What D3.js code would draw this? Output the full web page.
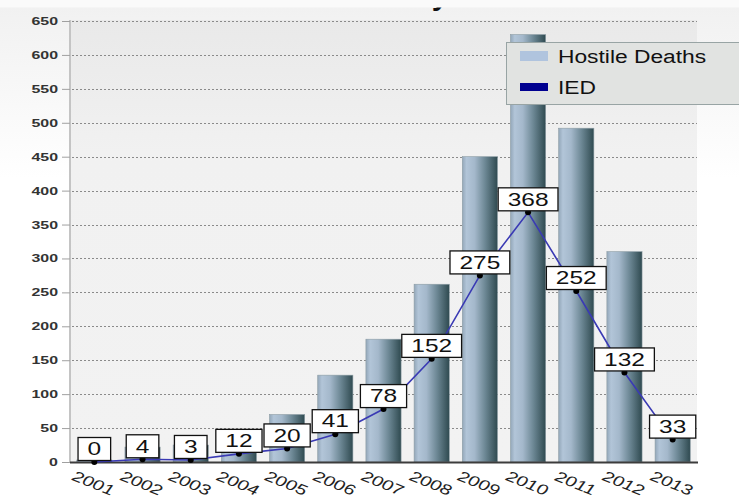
<!DOCTYPE html>
<html>
<head>
<meta charset="utf-8">
<title>Hostile Deaths and IED</title>
<script src="https://cdn.jsdelivr.net/npm/d3@7"></script>
<style>
  body { margin: 0; background: #fff; }
  svg { display: block; font-family: "Liberation Sans", Arial, sans-serif; }
</style>
</head>
<body>
<div id="chart"></div>
<script>
// chart data
const years = ['2001','2002','2003','2004','2005','2006','2007','2008','2009','2010','2011','2012','2013'];
const hostile = [3, 22, 25, 26, 70, 128, 181, 262, 450, 630, 492, 310, 40];
const ied = [0, 4, 3, 12, 20, 41, 78, 152, 275, 368, 252, 132, 33];
const yTicks = [0, 50, 100, 150, 200, 250, 300, 350, 400, 450, 500, 550, 600, 650];
const seriesNames = ['Hostile Deaths', 'IED'];

const W = 739, H = 498;
const plot = { left: 70, right: 697, top: 20, bottom: 462 };

const svg = d3.select('#chart').append('svg')
  .attr('width', W).attr('height', H);

const defs = svg.append('defs');
const bg = defs.append('linearGradient').attr('id', 'bg')
  .attr('x1', 0).attr('y1', 0).attr('x2', 0).attr('y2', 1);
bg.append('stop').attr('offset', '0%').attr('stop-color', '#f1f1f1');
bg.append('stop').attr('offset', '35%').attr('stop-color', '#ffffff');

const plotBg = defs.append('linearGradient').attr('id', 'plotbg')
  .attr('x1', 0).attr('y1', 0).attr('x2', 0).attr('y2', 1);
plotBg.append('stop').attr('offset', '0%').attr('stop-color', '#e9e9e9');
plotBg.append('stop').attr('offset', '30%').attr('stop-color', '#f1f1f1');
plotBg.append('stop').attr('offset', '100%').attr('stop-color', '#f2f2f2');

const barGrad = defs.append('linearGradient').attr('id', 'bar')
  .attr('x1', 0).attr('y1', 0).attr('x2', 1).attr('y2', 0);
[['0%', '#93a7b9'], ['12%', '#b2c5d8'], ['35%', '#a4b8cb'], ['65%', '#6c8794'], ['100%', '#2f4a50']]
  .forEach(s => barGrad.append('stop').attr('offset', s[0]).attr('stop-color', s[1]));

// backgrounds
svg.append('rect').attr('x', 0).attr('y', 7).attr('width', W).attr('height', H - 7)
  .attr('fill', 'url(#bg)');

// title sits above the visible area; only a descender shows below the top strip
const title = svg.append('text')
  .attr('y', 5)
  .attr('font-size', 30)
  .attr('font-weight', 'bold')
  .attr('fill', '#111')
  .text('Coalition Deaths by Year');
const node = title.node();
const yIdx = node.textContent.indexOf('by') + 1;
const pre = node.getSubStringLength(0, yIdx);
const yW = node.getSubStringLength(yIdx, 1);
title.attr('x', 440 - pre - yW / 2);
svg.append('rect').attr('x', 0).attr('y', -40).attr('width', W).attr('height', 47.5)
  .attr('fill', '#fafafa');

svg.append('rect')
  .attr('x', plot.left).attr('y', plot.top)
  .attr('width', plot.right - plot.left).attr('height', plot.bottom - plot.top)
  .attr('fill', 'url(#plotbg)');

const x = d3.scaleBand().domain(years)
  .range([plot.left, plot.right])
  .paddingInner(0.27).paddingOuter(0.14);
const y = d3.scaleLinear().domain([0, 650]).range([plot.bottom, plot.top + 1]);

// grid
svg.append('g')
  .selectAll('line').data(yTicks.filter(d => d > 0)).join('line')
  .attr('x1', plot.left + 2).attr('x2', plot.right)
  .attr('y1', d => Math.round(y(d)) + 0.5).attr('y2', d => Math.round(y(d)) + 0.5)
  .attr('stroke', '#8a8a8a').attr('stroke-dasharray', '2,2');

// y axis
const yAxis = svg.append('g')
  .attr('transform', `translate(${plot.left},0)`)
  .call(d3.axisLeft(y).tickValues(yTicks).tickSize(8).tickPadding(4).tickFormat(d3.format('d')));
yAxis.select('.domain').attr('stroke', '#c4c4c4').attr('stroke-width', 2)
  .attr('d', `M0,${plot.top}V${plot.bottom}`);
yAxis.selectAll('.tick line').attr('stroke', '#a0a0a0');
yAxis.selectAll('.tick text')
  .attr('x', 0)
  .attr('transform', 'translate(-12,0) scale(1.45,1)')
  .attr('font-size', 11).attr('font-weight', 'bold')
  .attr('font-family', '"Liberation Sans", Arial, sans-serif')
  .attr('fill', '#333');

// bars
svg.append('g')
  .selectAll('rect').data(hostile).join('rect')
  .attr('x', (d, i) => x(years[i]))
  .attr('y', d => y(d))
  .attr('width', x.bandwidth())
  .attr('height', d => plot.bottom - y(d))
  .attr('fill', 'url(#bar)')
  .attr('stroke', '#8c9ca4').attr('stroke-width', 0.6);

// x axis line
svg.append('line')
  .attr('x1', plot.left).attr('x2', plot.right + 1)
  .attr('y1', plot.bottom + 0.5).attr('y2', plot.bottom + 0.5)
  .attr('stroke', '#3c3c3c').attr('stroke-width', 2);

// x labels
svg.append('g')
  .selectAll('g').data(years).join('g')
  .attr('transform', d => `translate(${x(d) + x.bandwidth() / 2 - 1},483) rotate(22) scale(1.3,1)`)
  .append('text')
  .attr('text-anchor', 'middle')
  .attr('dy', '0.35em')
  .attr('font-size', 15)
  .attr('font-style', 'italic')
  .attr('fill', '#222')
  .text(d => d);

// IED line
const cx = i => x(years[i]) + x.bandwidth() / 2;
svg.append('path')
  .datum(ied)
  .attr('fill', 'none')
  .attr('stroke', '#3a3ab4')
  .attr('stroke-width', 1.6)
  .attr('d', d3.line().x((d, i) => cx(i)).y(d => y(d)));

svg.append('g')
  .selectAll('circle').data(ied).join('circle')
  .attr('cx', (d, i) => cx(i)).attr('cy', d => y(d))
  .attr('r', 3).attr('fill', '#000');

// value labels
const lab = svg.append('g')
  .selectAll('g').data(ied).join('g')
  .attr('transform', (d, i) => `translate(${cx(i)},${y(d) - 13})`);
lab.each(function(d) {
  const g = d3.select(this);
  const digits = String(d).length;
  const w = digits * 13.6 + 19;
  g.append('rect')
    .attr('x', -w / 2).attr('y', -11.5)
    .attr('width', w).attr('height', 23)
    .attr('fill', '#fff').attr('stroke', '#111').attr('stroke-width', 1.3);
  g.append('text')
    .attr('transform', 'scale(1.4,1)')
    .attr('text-anchor', 'middle')
    .attr('dy', '0.36em')
    .attr('font-size', 17.5)
    .attr('fill', '#111')
    .text(d);
});

// legend
const leg = svg.append('g').attr('transform', 'translate(506,42)');
leg.append('rect').attr('x', 0.5).attr('y', 0.5).attr('width', 240).attr('height', 62)
  .attr('fill', '#e1e3e1').attr('stroke', '#98a4a4');
const legColors = ['#b0c4de', '#000090'];
const legItems = leg.selectAll('g').data(seriesNames).join('g')
  .attr('transform', (d, i) => `translate(0,${i * 31})`);
legItems.append('rect')
  .attr('x', 14).attr('y', (d, i) => i === 0 ? 9 : 10)
  .attr('width', 28).attr('height', (d, i) => i === 0 ? 10 : 8)
  .attr('fill', (d, i) => legColors[i]);
legItems.append('text')
  .attr('transform', 'translate(52,21) scale(1.2,1)')
  .attr('font-size', 19)
  .attr('fill', '#111')
  .text(d => d);
</script>
</body>
</html>
